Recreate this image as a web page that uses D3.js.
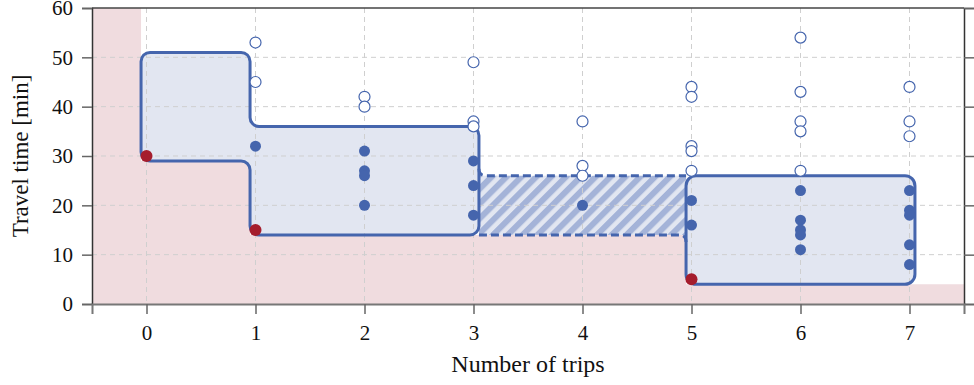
<!DOCTYPE html>
<html>
<head>
<meta charset="utf-8">
<script src="https://cdn.jsdelivr.net/npm/d3@7"></script>
<style>
  body { margin: 0; background: #fff; }
  svg text { font-family: "Liberation Serif", "DejaVu Serif", serif; fill: #111; }
</style>
</head>
<body>
<svg width="974" height="385"></svg>
<script>
// data
var xTicks = [0, 1, 2, 3, 4, 5, 6, 7];
var yTicks = [0, 10, 20, 30, 40, 50, 60];

// best travel time reached with n trips (red)
var bestTrips = [0, 1, 5];
var bestTimes = [30, 15, 5];

// solutions inside the boxes (filled)
var inTrips = [1, 2, 2, 2, 2, 3, 3, 3, 4, 5, 5, 6, 6, 6, 6, 6, 7, 7, 7, 7, 7];
var inTimes = [32, 31, 27, 26, 20, 29, 24, 18, 20, 21, 16, 23, 17, 15, 14, 11, 23, 19, 18, 12, 8];

// solutions outside the boxes (open)
var outTrips = [1, 1, 2, 2, 3, 3, 3, 4, 4, 4, 5, 5, 5, 5, 5, 6, 6, 6, 6, 6, 7, 7, 7];
var outTimes = [53, 45, 42, 40, 49, 37, 36, 37, 28, 26, 44, 42, 32, 31, 27, 54, 43, 37, 35, 27, 44, 37, 34];

// dominated region (staircase)
var frontierX = [-0.5, -0.05, -0.05, 0.95, 0.95, 4.95, 4.95, 7.5, 7.5, -0.5];
var frontierY = [60, 60, 29, 29, 14, 14, 4, 4, 0, 0];

// box outlines
var box1X = [-0.05, 0.95, 0.95, 3.05, 3.05, 0.95, 0.95, -0.05];
var box1Y = [51, 51, 36, 36, 14, 14, 29, 29];
var box2X = [4.95, 7.05, 7.05, 4.95];
var box2Y = [26, 26, 4, 4];
var gapX = [3.05, 4.95];
var gapY = [14, 26];

var blue = "#4565ad", red = "#a51d2d", pink = "#f0dcdf", boxFill = "#e2e6f1";

var svg = d3.select("svg");
var m = {left: 92, right: 10, top: 8, bottom: 81};
var W = 974 - m.left - m.right, H = 385 - m.top - m.bottom;

var x = d3.scaleLinear().domain([-0.5, 7.5]).range([0, W]);
var y = d3.scaleLinear().domain([0, 60]).range([H, 0]);

var defs = svg.append("defs");
var pat = defs.append("pattern")
    .attr("id", "hatch")
    .attr("patternUnits", "userSpaceOnUse")
    .attr("width", 10.5).attr("height", 10.5)
    .attr("patternTransform", "rotate(45)");
pat.append("rect").attr("width", 10.5).attr("height", 10.5).attr("fill", boxFill);
pat.append("rect").attr("width", 6).attr("height", 10.5).attr("fill", "#a4b3d8");

defs.append("clipPath").attr("id", "clip")
    .append("rect").attr("width", W).attr("height", H);

var g = svg.append("g").attr("transform", "translate(" + m.left + "," + m.top + ")");

function roundPoly(xs, ys, r) {
    var p = d3.path();
    var n = xs.length;
    var pts = xs.map(function(v, i) { return [x(v), y(ys[i])]; });
    var a = pts[n - 1], b = pts[0];
    p.moveTo((a[0] + b[0]) / 2, (a[1] + b[1]) / 2);
    for (var i = 0; i < n; i++) {
        var c = pts[i], d = pts[(i + 1) % n];
        p.arcTo(c[0], c[1], d[0], d[1], r);
    }
    p.closePath();
    return p.toString();
}

// dominated area
g.append("path")
    .attr("d", d3.line()(frontierX.map(function(v, i) { return [x(v), y(frontierY[i])]; })) + "Z")
    .attr("fill", pink)
    .attr("clip-path", "url(#clip)");

// box fills
g.append("path").attr("d", roundPoly(box1X, box1Y, 9)).attr("fill", boxFill);
g.append("rect")
    .attr("x", x(gapX[0])).attr("width", x(gapX[1]) - x(gapX[0]))
    .attr("y", y(gapY[1])).attr("height", y(gapY[0]) - y(gapY[1]))
    .attr("fill", "url(#hatch)");
g.append("path").attr("d", roundPoly(box2X, box2Y, 10)).attr("fill", boxFill);

// grid
g.append("g").selectAll("line").data(xTicks).join("line")
    .attr("x1", function(d) { return x(d); }).attr("x2", function(d) { return x(d); })
    .attr("y1", 0).attr("y2", H)
    .attr("stroke", "#cfcfcf").attr("stroke-dasharray", "5,4");
g.append("g").selectAll("line").data(yTicks.slice(1, -1)).join("line")
    .attr("y1", function(d) { return y(d); }).attr("y2", function(d) { return y(d); })
    .attr("x1", 0).attr("x2", W)
    .attr("stroke", "#cfcfcf").attr("stroke-dasharray", "5,4");

// gap outline (dashed)
var gx0 = x(gapX[0]), gx1 = x(gapX[1]), gyt = y(gapY[1]), gyb = y(gapY[0]);
g.append("path")
    .attr("d", "M" + gx0 + "," + (gyt - 7) + "Q" + gx0 + "," + gyt + " " + (gx0 + 7) + "," + gyt +
               "H" + gx1 +
               "M" + gx0 + "," + gyb + "H" + (gx1 - 7) +
               "Q" + gx1 + "," + gyb + " " + gx1 + "," + (gyb + 7))
    .attr("fill", "none").attr("stroke", blue).attr("stroke-width", 3)
    .attr("stroke-dasharray", "8,4");

// box outlines
g.append("path").attr("d", roundPoly(box1X, box1Y, 9))
    .attr("fill", "none").attr("stroke", blue).attr("stroke-width", 3);
g.append("path").attr("d", roundPoly(box2X, box2Y, 10))
    .attr("fill", "none").attr("stroke", blue).attr("stroke-width", 3);

// axes
var axL = g.append("g").call(d3.axisLeft(y).tickValues(yTicks).tickSize(10).tickPadding(9));
var axR = g.append("g").attr("transform", "translate(" + W + ",0)")
    .call(d3.axisRight(y).tickValues(yTicks).tickSize(10).tickFormat(""));
var axB = g.append("g").attr("transform", "translate(0," + H + ")")
    .call(d3.axisBottom(x).tickValues(xTicks).tickSize(10).tickPadding(11));
g.append("line").attr("x1", 0).attr("x2", W).attr("y1", 0).attr("y2", 0)
    .attr("stroke", "#444").attr("stroke-width", 1.5);
[axL, axR, axB].forEach(function(a) {
    a.select(".domain").attr("stroke", "#333").attr("stroke-width", 1.5);
    a.selectAll(".tick line").attr("stroke", "#666").attr("stroke-width", 1.5);
    a.selectAll("text").style("font-size", "21px").attr("fill", "#111");
});
axB.select(".domain").attr("stroke", "#777").attr("stroke-width", 2);

// points
g.append("g").selectAll("circle").data(outTrips).join("circle")
    .attr("cx", function(d) { return x(d); })
    .attr("cy", function(d, i) { return y(outTimes[i]); })
    .attr("r", 5.5).attr("fill", "#fff").attr("stroke", blue).attr("stroke-width", 1.2);
g.append("g").selectAll("circle").data(inTrips).join("circle")
    .attr("cx", function(d) { return x(d); })
    .attr("cy", function(d, i) { return y(inTimes[i]); })
    .attr("r", 5.5).attr("fill", blue);
g.append("g").selectAll("circle").data(bestTrips).join("circle")
    .attr("cx", function(d) { return x(d); })
    .attr("cy", function(d, i) { return y(bestTimes[i]); })
    .attr("r", 6).attr("fill", red);

// labels
svg.append("text")
    .attr("x", m.left + W / 2).attr("y", 372)
    .attr("text-anchor", "middle").style("font-size", "24px")
    .text("Number of trips");
svg.append("text")
    .attr("transform", "translate(28," + (m.top + H / 2) + ") rotate(-90)")
    .attr("text-anchor", "middle").style("font-size", "23px")
    .text("Travel time [min]");
</script>
</body>
</html>
